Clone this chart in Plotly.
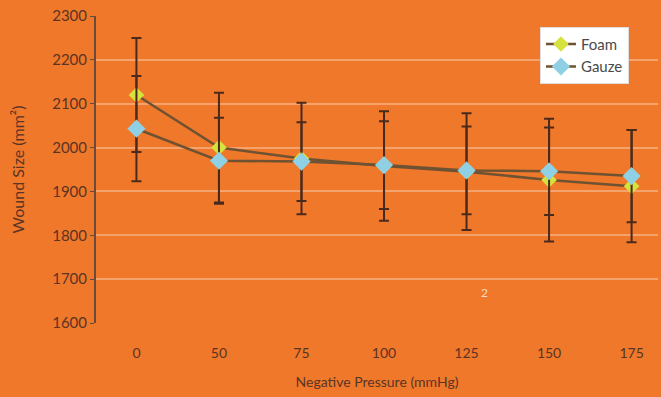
import plotly.graph_objects as go

pressures = ["0", "50", "75", "100", "125", "150", "175"]
foam = [2120, 2000, 1975, 1958, 1945, 1926, 1912]
foam_err = [130, 125, 127, 125, 133, 140, 128]
gauze = [2043, 1970, 1968, 1960, 1948, 1946, 1935]
gauze_err = [120, 98, 90, 100, 100, 100, 105]

bg = "#F0782A"
grid = "#F5A36C"
txt = "#5A3424"
line_c = "#6E5232"
err_c = "#4A2A1C"

fig = go.Figure()
fig.add_trace(go.Scatter(
    x=pressures, y=foam, name="Foam", mode="lines+markers",
    line=dict(color=line_c, width=2.5),
    marker=dict(symbol="diamond", size=12, color="#D6E23E", line=dict(width=0)),
    error_y=dict(type="data", array=foam_err, visible=True, color=err_c, thickness=2, width=5),
))
fig.add_trace(go.Scatter(
    x=pressures, y=gauze, name="Gauze", mode="lines+markers",
    line=dict(color=line_c, width=2.5),
    marker=dict(symbol="diamond", size=14, color="#8FD0E4", line=dict(width=0)),
    error_y=dict(type="data", array=gauze_err, visible=True, color=err_c, thickness=2, width=5),
))

fig.update_layout(
    width=661, height=397,
    margin=dict(l=96, r=3, t=16, b=74),
    paper_bgcolor=bg, plot_bgcolor=bg,
    font=dict(family="Lato, Open Sans, sans-serif", color=txt, size=13),
    showlegend=True,
    legend=dict(x=0.79, y=0.965, xanchor="left", yanchor="top",
                bgcolor="white", bordercolor="#dddddd", borderwidth=1,
                font=dict(size=15, color="#4a4a4a"), tracegroupgap=2),
    xaxis=dict(type="category", range=[-0.49, 6.32], showgrid=False, zeroline=False,
               showline=False, ticks="", ticklabelstandoff=20, automargin=False,
               tickfont=dict(size=14, color=txt),
               title=dict(text="Negative Pressure (mmHg)", font=dict(size=14, color=txt), standoff=17)),
    yaxis=dict(range=[1600, 2300], dtick=100, showgrid=True, gridcolor=grid, gridwidth=1.5,
               zeroline=False, showline=True, linecolor="#6A4A3A", linewidth=2,
               ticks="outside", ticklen=4, tickcolor="#6A4A3A", automargin=False,
               tickfont=dict(size=15, color=txt),
               title=dict(text="Wound Size (mm²)", font=dict(size=16, color=txt), standoff=24)),
    annotations=[dict(x=4, y=1670, xref="x", yref="y", text="2", showarrow=False,
                      font=dict(size=12, color="#F8D8C0"), xshift=18)],
)

fig.write_html("out.html", config={"displayModeBar": False},
               post_script="document.body.style.margin='0';")
